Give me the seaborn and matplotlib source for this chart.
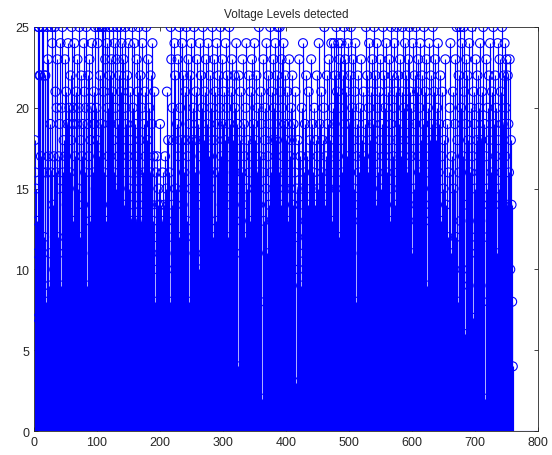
import matplotlib
matplotlib.use('Agg')
import matplotlib.pyplot as plt
import seaborn as sns
import numpy as np

sns.set_style('ticks')
plt.rcParams['font.family'] = ['Liberation Sans', 'DejaVu Sans']
plt.rcParams['xtick.direction'] = 'in'
plt.rcParams['ytick.direction'] = 'in'

# detected voltage levels in chunks of 95 samples
seg1 = [18, 16, 15, 11, 13, 7, 25, 25, 22, 22,
        17, 5, 25, 25, 16, 12, 22, 22, 8, 16,
        25, 23, 17, 9, 11, 19, 16, 25, 24, 14,
        17, 10, 25, 21, 16, 20, 23, 12, 17, 15,
        19, 24, 9, 20, 25, 16, 18, 11, 23, 17,
        21, 14, 19, 24, 8, 20, 16, 22, 18, 25,
        19, 13, 20, 24, 17, 10, 21, 19, 23, 15,
        20, 25, 12, 18, 22, 17, 19, 14, 24, 21,
        16, 20, 25, 9, 19, 22, 17, 23, 13, 18,
        20, 24, 11, 16, 21]
seg2 = [19, 25, 15, 20, 18, 24, 25, 17, 4, 22,
        8, 19, 25, 25, 21, 16, 25, 23, 4, 13,
        24, 20, 17, 25, 22, 19, 14, 23, 21, 25,
        18, 16, 24, 20, 15, 23, 25, 19, 17, 22,
        13, 25, 21, 24, 18, 16, 23, 14, 20, 25,
        19, 13, 22, 17, 24, 15, 21, 18, 13, 16,
        25, 20, 14, 24, 17, 19, 13, 23, 16, 21,
        25, 15, 18, 22, 13, 20, 24, 16, 19, 14,
        21, 17, 25, 13, 18, 23, 15, 20, 16, 22,
        14, 19, 24, 13, 17]
seg3 = [21, 8, 16, 12, 17, 10, 14, 15, 11, 19,
        14, 6, 13, 16, 12, 9, 14, 17, 11, 15,
        21, 13, 18, 12, 16, 8, 25, 23, 14, 20,
        18, 10, 24, 22, 15, 5, 19, 23, 17, 12,
        25, 20, 9, 18, 24, 14, 22, 16, 11, 21,
        18, 25, 13, 17, 23, 8, 19, 22, 15, 24,
        18, 12, 20, 25, 16, 3, 21, 18, 23, 14,
        19, 10, 24, 17, 22, 15, 20, 25, 11, 18,
        21, 16, 23, 13, 19, 24, 9, 17, 22, 15,
        20, 18, 25, 12, 16]
seg4 = [23, 18, 21, 13, 24, 19, 16, 22, 10, 20,
        25, 17, 14, 23, 19, 21, 8, 18, 24, 15,
        20, 22, 12, 17, 25, 19, 14, 21, 23, 9,
        18, 16, 22, 20, 13, 24, 17, 19, 4, 22,
        15, 18, 21, 11, 16, 23, 14, 19, 17, 12,
        20, 24, 15, 18, 9, 22, 16, 13, 21, 17,
        23, 10, 19, 15, 24, 18, 12, 22, 16, 20,
        14, 25, 17, 8, 21, 19, 2, 16, 23, 13,
        18, 20, 15, 24, 11, 17, 22, 14, 19, 25,
        16, 21, 13, 18, 23]
seg5 = [20, 15, 24, 18, 22, 12, 25, 19, 16, 25,
        21, 14, 23, 20, 17, 24, 19, 15, 22, 18,
        16, 21, 13, 19, 23, 17, 15, 20, 18, 22,
        14, 19, 3, 16, 21, 3, 15, 12, 18, 10,
        23, 14, 17, 9, 20, 15, 24, 11, 16, 19,
        13, 22, 8, 17, 14, 21, 10, 18, 15, 23,
        12, 19, 16, 7, 20, 14, 18, 11, 22, 17,
        15, 24, 9, 19, 13, 21, 16, 18, 12, 20,
        25, 14, 17, 10, 22, 19, 15, 23, 11, 18,
        16, 24, 13, 20, 17]
seg6 = [24, 19, 22, 15, 25, 21, 17, 24, 12, 23,
        20, 18, 24, 16, 22, 10, 25, 19, 23, 14,
        21, 17, 24, 13, 19, 22, 16, 25, 11, 20,
        23, 18, 15, 21, 24, 8, 19, 17, 22, 14,
        16, 20, 13, 23, 18, 9, 15, 21, 17, 12,
        19, 25, 14, 22, 16, 20, 24, 13, 18, 21,
        15, 23, 19, 11, 25, 17, 22, 14, 24, 20,
        16, 8, 21, 18, 23, 15, 19, 12, 25, 22,
        17, 20, 14, 24, 16, 9, 21, 18, 23, 13,
        19, 25, 15, 22, 17]
seg7 = [20, 24, 14, 21, 18, 25, 16, 22, 12, 19,
        23, 17, 15, 21, 25, 13, 20, 18, 24, 10,
        22, 16, 19, 23, 14, 25, 21, 17, 20, 11,
        24, 18, 15, 22, 19, 25, 13, 21, 17, 23,
        16, 20, 24, 12, 18, 22, 15, 19, 25, 14,
        21, 17, 23, 9, 20, 16, 24, 18, 13, 22,
        19, 15, 25, 17, 21, 11, 23, 18, 14, 20,
        24, 16, 19, 8, 22, 13, 17, 21, 5, 15,
        18, 10, 23, 14, 6, 19, 12, 16, 9, 20,
        24, 11, 17, 7, 21]
seg8 = [15, 1, 19, 23, 12, 25, 18, 8, 22, 16,
        25, 13, 20, 24, 10, 17, 25, 21, 6, 19,
        23, 14, 22, 18, 9, 24, 16, 20, 12, 25,
        17, 7, 21, 19, 15, 23, 11, 18, 22, 13,
        20, 16, 24, 9, 18, 21, 14, 25, 12, 19,
        2, 17, 23, 15, 20, 8, 22, 18, 24, 13,
        16, 21, 10, 25, 19, 14, 22, 17, 20, 11,
        24, 18, 15, 23, 9, 21, 16, 25, 19, 12,
        22, 24, 17, 20, 23, 14, 22, 19, 16, 23,
        10, 18, 14, 8, 4]

levels = np.array(seg1 + seg2 + seg3 + seg4 + seg5 + seg6 + seg7 + seg8)
samples = np.arange(1, len(levels) + 1)

x_ticks = [0, 100, 200, 300, 400, 500, 600, 700, 800]
y_ticks = [0, 5, 10, 15, 20, 25]

fig = plt.figure(figsize=(5.52, 4.56), dpi=100)
ax = fig.add_axes([0.0616, 0.0526, 0.913, 0.886])

# stems + baseline, matlab style
ax.vlines(samples, 0, levels, color='#0000ff', linewidth=0.85)
ax.axhline(0, color='#0000ff', linewidth=0.8)
sns.scatterplot(x=samples, y=levels, ax=ax, marker='o', s=42,
                facecolor='none', edgecolor='#0000ff', linewidth=0.8,
                legend=False, zorder=3)

ax.set_xlim(0, 800)
ax.set_ylim(0, 25)
ax.set_xticks(x_ticks)
ax.set_yticks(y_ticks)
ax.tick_params(labelsize=9, length=3, width=0.6, top=True, right=True)
for s in ax.spines.values():
    s.set_linewidth(0.6)
ax.set_xlabel('')
ax.set_ylabel('')
ax.set_title('Voltage Levels detected', fontsize=8.5, pad=7)

plt.savefig('out.png', dpi=100)
plt.close()
